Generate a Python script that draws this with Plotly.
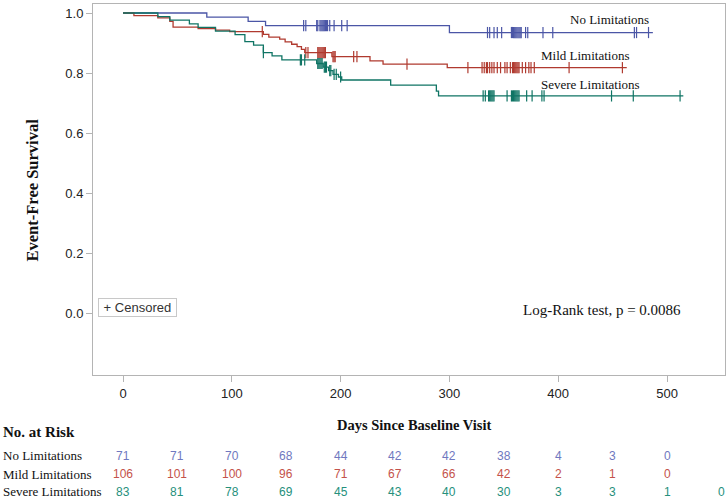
import plotly.graph_objects as go

# ---------------- data ----------------
group_names = ["No Limitations", "Mild Limitations", "Severe Limitations"]

# Kaplan-Meier step functions (day, survival)
no_times = [0, 77, 115, 131, 300, 487]
no_surv = [1.0, 0.986, 0.972, 0.958, 0.935, 0.935]
no_censor = [166, 168, 178, 179, 181, 182, 183, 184, 185, 186, 187, 188, 190, 194,
             201, 206, 335, 337, 341, 344, 348, 357, 358, 359, 360, 361, 362,
             363, 364, 365, 366, 370, 372, 386, 395, 470, 472, 483]

mild_times = [0, 10, 32, 43, 46, 69, 85, 98, 129, 134, 144, 149, 155, 160, 164,
              167, 192, 227, 239, 298, 463]
mild_surv = [1.0, 0.991, 0.984, 0.972, 0.953, 0.948, 0.943, 0.938, 0.929, 0.920,
             0.913, 0.904, 0.896, 0.888, 0.879, 0.868, 0.855, 0.841, 0.830, 0.818,
             0.818]
mild_censor = [128, 168, 170, 179, 180, 181, 182, 183, 184, 185, 186, 193, 194,
               195, 212, 215, 261, 317, 330, 332, 334, 335, 337, 339, 341, 344,
               347, 351, 353, 356, 358, 359, 360, 361, 362, 363, 364, 367, 370,
               373, 375, 378, 410, 459]

severe_times = [0, 32, 43, 61, 69, 85, 103, 112, 120, 129, 137, 146, 178, 184,
                189, 193, 198, 201, 246, 288, 290, 515]
severe_surv = [1.0, 0.988, 0.976, 0.964, 0.952, 0.940, 0.928, 0.905, 0.893,
               0.868, 0.857, 0.844, 0.832, 0.820, 0.808, 0.796, 0.787, 0.777,
               0.760, 0.740, 0.724, 0.724]
severe_censor = [129, 163, 164, 167, 179, 180, 181, 182, 183, 185, 186, 187, 190,
                 191, 194, 196, 200, 331, 333, 336, 337, 338, 339, 340, 341, 353,
                 357, 358, 359, 360, 361, 362, 363, 364, 371, 376, 385, 387, 449,
                 469, 512]

# Number at risk table
risk_days = [0, 50, 100, 150, 200, 250, 300, 350, 400, 450, 500, 550]
risk_no = [71, 71, 70, 68, 44, 42, 42, 38, 4, 3, 0]
risk_mild = [106, 101, 100, 96, 71, 67, 66, 42, 2, 1, 0]
risk_severe = [83, 81, 78, 69, 45, 43, 40, 30, 3, 3, 1, 0]

x_ticks = [0, 100, 200, 300, 400, 500]
y_ticks = [0.0, 0.2, 0.4, 0.6, 0.8, 1.0]

# ---------------- styling ----------------
line_colors = ["#4b56a6", "#b03a2f", "#0f7464"]
risk_colors = ["#6f78c0", "#c4524a", "#26907c"]
serif = "Liberation Serif, Times New Roman, serif"
sans = "Liberation Sans, Arial, sans-serif"


def step_at(times, surv, t):
    val = surv[0]
    for ti, si in zip(times, surv):
        if ti <= t:
            val = si
        else:
            break
    return val


fig = go.Figure()
groups = [
    (no_times, no_surv, no_censor),
    (mild_times, mild_surv, mild_censor),
    (severe_times, severe_surv, severe_censor),
]
for (tt, ss, cc), name, col in zip(groups, group_names, line_colors):
    fig.add_trace(go.Scatter(
        x=tt, y=ss, mode="lines", line=dict(color=col, width=1.3, shape="hv"),
        name=name, showlegend=False, hoverinfo="skip"))
    fig.add_trace(go.Scatter(
        x=cc, y=[step_at(tt, ss, c) for c in cc], mode="markers",
        marker=dict(symbol="line-ns-open", size=8, color=col,
                    line=dict(color=col, width=1.2)),
        showlegend=False, hoverinfo="skip"))

# curve labels
label_pos = [(447, 0.977), (425, 0.858), (430, 0.763)]
for name, (lx, ly) in zip(group_names, label_pos):
    fig.add_annotation(x=lx, y=ly, xref="x", yref="y", text=name, showarrow=False,
                       font=dict(family=serif, size=13, color="#111"),
                       xanchor="center", yanchor="middle")

# censored legend box
fig.add_annotation(x=0.0085, y=0.02, xref="paper", yref="y",
                   text="&nbsp;+ Censored&nbsp;",
                   showarrow=False, xanchor="left", yanchor="middle",
                   font=dict(family=sans, size=13, color="#333"),
                   bordercolor="#c8c8c8", borderwidth=1, borderpad=1,
                   bgcolor="white")

# log-rank annotation
fig.add_annotation(x=440, y=0.011, xref="x", yref="y",
                   text="Log-Rank test, p = 0.0086", showarrow=False,
                   xanchor="center", yanchor="middle",
                   font=dict(family=serif, size=15, color="#111"))

# axis titles
fig.add_annotation(x=-0.095, y=0.5, xref="paper", yref="paper",
                   text="<b>Event-Free Survival</b>", textangle=-90,
                   showarrow=False, xanchor="center", yanchor="middle",
                   font=dict(family=serif, size=16.5, color="#111"))
fig.add_annotation(x=0.508, y=-0.135, xref="paper", yref="paper",
                   text="<b>Days Since Baseline Visit</b>", showarrow=False,
                   xanchor="center", yanchor="middle",
                   font=dict(family=serif, size=14.5, color="#111"))

# number at risk table
fig.add_annotation(x=-0.145, y=-0.154, xref="paper", yref="paper",
                   text="<b>No. at Risk</b>", showarrow=False,
                   xanchor="left", yanchor="middle",
                   font=dict(family=serif, size=15, color="#111"))
row_y = [-0.217, -0.268, -0.315]
row_vals = [risk_no, risk_mild, risk_severe]
for name, ry, vals, col in zip(group_names, row_y, row_vals, risk_colors):
    fig.add_annotation(x=-0.145, y=ry, xref="paper", yref="paper", text=name,
                       showarrow=False, xanchor="left", yanchor="middle",
                       font=dict(family=serif, size=13, color="#111"))
    for d, v in zip(risk_days, vals):
        fig.add_annotation(x=d, y=ry, xref="x", yref="paper", text=str(v),
                           showarrow=False, xanchor="center", yanchor="middle",
                           font=dict(family=sans, size=12, color=col))

fig.update_xaxes(range=[-27.6, 553.3], tickvals=x_ticks,
                 ticktext=[str(v) for v in x_ticks], showgrid=False,
                 zeroline=False, showline=True, mirror=True, linecolor="#b4b4b4",
                 linewidth=1, ticks="outside", ticklen=6, tickcolor="#b4b4b4",
                 tickfont=dict(family=sans, size=13, color="#222"))
fig.update_yaxes(range=[-0.205, 1.03], tickvals=y_ticks,
                 ticktext=[f"{v:.1f}" for v in y_ticks], showgrid=False,
                 zeroline=False, showline=True, mirror=True, linecolor="#b4b4b4",
                 linewidth=1, ticks="outside", ticklen=6, tickcolor="#b4b4b4",
                 tickfont=dict(family=sans, size=13, color="#222"))

fig.update_layout(width=728, height=501,
                  margin=dict(l=93, r=3, t=4, b=126),
                  plot_bgcolor="white", paper_bgcolor="white",
                  showlegend=False)

fig.write_html("out.html", config={"displayModeBar": False},
               post_script="document.body.style.margin='0';"
                           "document.body.style.padding='0';")
